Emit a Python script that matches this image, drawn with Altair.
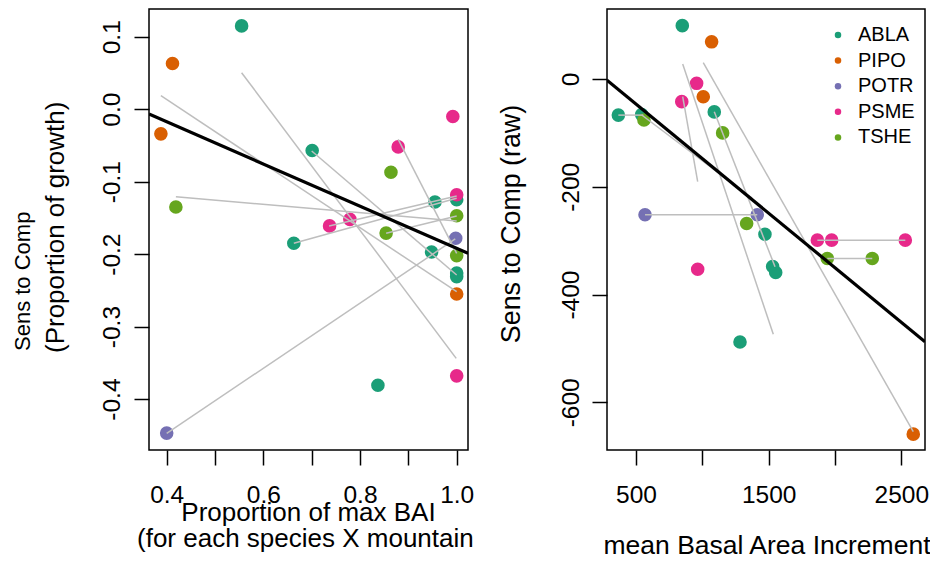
import altair as alt
import pandas as pd

FONT = "Liberation Sans"
SPECIES = ["ABLA", "PIPO", "POTR", "PSME", "TSHE"]
SPECIES_COLORS = ["#1B9E77", "#D95F02", "#7570B3", "#E7298A", "#66A61E"]

# ---- left panel: proportion of max BAI vs sensitivity (proportion of growth)
prop_species = ["ABLA", "PIPO", "PIPO", "TSHE", "ABLA", "PSME", "PSME", "TSHE",
                "ABLA", "ABLA", "PSME", "TSHE", "PSME", "PSME", "TSHE", "ABLA",
                "POTR", "ABLA", "TSHE", "ABLA", "ABLA", "PIPO", "PSME", "ABLA", "POTR"]
prop_bai = [0.555, 0.412, 0.388, 0.419, 0.701, 0.992, 0.879, 0.864,
            0.955, 1.000, 1.000, 1.000, 0.737, 0.779, 0.854, 0.663,
            0.998, 0.948, 1.000, 1.000, 1.000, 1.000, 1.000, 0.837, 0.400]
prop_sens = [0.115, 0.063, -0.034, -0.135, -0.057, -0.010, -0.052, -0.087,
             -0.128, -0.125, -0.118, -0.147, -0.161, -0.152, -0.171, -0.185,
             -0.178, -0.197, -0.202, -0.226, -0.231, -0.255, -0.368, -0.381, -0.447]

# grey within-group connectors
prop_seg_x1 = [0.555, 0.388, 0.700, 0.879, 0.419, 0.736, 0.663, 0.854, 0.400]
prop_seg_y1 = [0.0504, 0.0186, -0.0577, -0.0415, -0.1208, -0.1612, -0.1851, -0.1713, -0.4473]
prop_seg_x2 = [0.999, 1.000, 1.000, 1.000, 1.000, 1.000, 1.000, 1.000, 0.997]
prop_seg_y2 = [-0.3438, -0.2519, -0.2288, -0.1989, -0.1543, -0.1198, -0.1230, -0.1474, -0.1791]

# overall linear fit
prop_fit = {"intercept": 0.0991, "slope": -0.2912}

prop_x_domain = [0.3634, 1.0234]
prop_y_domain = [-0.4703, 0.1383]
prop_x_ticks = [0.4, 0.5, 0.6, 0.7, 0.8, 0.9, 1.0]
prop_y_ticks = [-0.4, -0.3, -0.2, -0.1, 0.0, 0.1]

# ---- right panel: mean basal area increment vs sensitivity (raw)
raw_species = ["ABLA", "PIPO", "PSME", "PIPO", "PSME", "ABLA", "ABLA", "TSHE",
               "ABLA", "TSHE", "POTR", "POTR", "TSHE", "ABLA", "PSME", "PSME",
               "PSME", "TSHE", "TSHE", "ABLA", "ABLA", "PSME", "ABLA", "PIPO"]
raw_bai = [849, 1070, 957, 1007, 845, 367, 543, 560,
           1090, 1153, 568, 1414, 1334, 1472, 1867, 1975,
           2530, 1942, 2281, 1530, 1553, 965, 1284, 2590]
raw_sens = [99, 69, -8, -33, -42, -67, -66, -76,
            -61, -100, -252, -252, -268, -288, -299, -299,
            -299, -333, -333, -348, -359, -353, -488, -659]

raw_seg_x1 = [367, 568, 1867, 1942, 852, 852, 1007, 1090, 543]
raw_seg_y1 = [-67, -252, -299, -333, 27.8, -32.8, 30.2, -60.7, -66.8]
raw_seg_x2 = [555, 1414, 2530, 2281, 1535, 965, 2590, 1548, 1374]
raw_seg_y2 = [-67, -252, -299, -333, -473.7, -190.5, -654.5, -348.3, -221]

raw_fit = {"intercept": 54.6, "slope": -0.2024}

raw_x_domain = [281.4, 2678.5]
raw_y_domain = [-688.4, 129.9]
raw_x_ticks = [500, 1000, 1500, 2000, 2500]
raw_y_ticks = [-600, -400, -200, 0]

PANEL_H = 441
TICK = 15
TICK_FONT = 24.5
TITLE_FONT = 26


def x_axis(values, fmt, label_expr):
    return alt.Axis(values=values, format=fmt, labelExpr=label_expr, title=None,
                    domain=False, grid=False, tickSize=TICK, tickWidth=1.5,
                    tickColor="black", labelFont=FONT, labelFontSize=TICK_FONT,
                    labelColor="black", labelBaseline="alphabetic", labelPadding=37,
                    labelOverlap=False, labelFlush=False)


def y_axis(values, fmt, pad):
    return alt.Axis(values=values, format=fmt,
                    labelExpr="replace(datum.label, '\u2212', '-')",
                    title=None, domain=False, grid=False, tickSize=TICK,
                    tickWidth=1.5, tickColor="black", labelFont=FONT,
                    labelFontSize=TICK_FONT, labelColor="black", labelAngle=270,
                    labelAlign="center", labelBaseline="alphabetic",
                    labelPadding=pad, labelOverlap=False, labelFlush=False)


def text_layer(text, px, py, angle=0, align="center", baseline="alphabetic",
               size=TITLE_FONT, limit=0):
    kw = dict(angle=angle, align=align, baseline=baseline, font=FONT,
              fontSize=size, color="black")
    if limit:
        # cut the text at the panel edge without any visible ellipsis
        kw.update(limit=limit, ellipsis="\u200b")
    return alt.Chart(pd.DataFrame({"t": [text]})).mark_text(**kw).encode(
        x=alt.value(px), y=alt.value(py), text="t:N")


def panel(species, xs, ys, sx1, sy1, sx2, sy2, fit, xdom, ydom, xax, yax,
          width, legend, titles):
    xs_ = alt.Scale(domain=xdom, nice=False, zero=False)
    ys_ = alt.Scale(domain=ydom, nice=False, zero=False)
    color = alt.Scale(domain=SPECIES, range=SPECIES_COLORS)

    pts = pd.DataFrame({"species": species, "x": xs, "y": ys})
    segs = pd.DataFrame({"x1": sx1, "y1": sy1, "x2": sx2, "y2": sy2})
    line = pd.DataFrame({
        "x1": [xdom[0]], "x2": [xdom[1]],
        "y1": [fit["intercept"] + fit["slope"] * xdom[0]],
        "y2": [fit["intercept"] + fit["slope"] * xdom[1]],
    })

    points = alt.Chart(pts).mark_circle(size=185, opacity=1).encode(
        x=alt.X("x:Q", scale=xs_, axis=xax),
        y=alt.Y("y:Q", scale=ys_, axis=yax),
        color=alt.Color("species:N", scale=color, legend=legend),
    )
    connectors = alt.Chart(segs).mark_rule(color="#BEBEBE", strokeWidth=1.5).encode(
        x=alt.X("x1:Q", scale=xs_, axis=xax), y=alt.Y("y1:Q", scale=ys_, axis=yax),
        x2="x2:Q", y2="y2:Q",
    )
    fitline = alt.Chart(line).mark_rule(color="black", strokeWidth=3.2, clip=True).encode(
        x=alt.X("x1:Q", scale=xs_, axis=xax), y=alt.Y("y1:Q", scale=ys_, axis=yax),
        x2="x2:Q", y2="y2:Q",
    )
    layers = [points, connectors, fitline] + titles
    return alt.layer(*layers).properties(width=width, height=PANEL_H)


left = panel(
    prop_species, prop_bai, prop_sens,
    prop_seg_x1, prop_seg_y1, prop_seg_x2, prop_seg_y2, prop_fit,
    prop_x_domain, prop_y_domain,
    x_axis(prop_x_ticks, ".1f",
           "round(datum.value * 10) % 2 == 0 ? datum.label : ''"),
    y_axis(prop_y_ticks, ".1f", 15),
    319, None,
    [
        text_layer("Proportion of max BAI", 159.5, 512),
        text_layer("(for each species X mountain)", -12, 538, align="left", limit=341),
        text_layer("Sens to Comp", -126, 342, angle=270, align="left",
                   baseline="middle", size=22),
        text_layer("(Proportion of growth)", -93.5, 344, angle=270, align="left",
                   baseline="middle"),
    ],
)

right = panel(
    raw_species, raw_bai, raw_sens,
    raw_seg_x1, raw_seg_y1, raw_seg_x2, raw_seg_y2, raw_fit,
    raw_x_domain, raw_y_domain,
    x_axis(raw_x_ticks, "d", "datum.value % 1000 == 500 ? datum.label : ''"),
    y_axis(raw_y_ticks, "d", 14),
    318,
    alt.Legend(title=None, orient="none", legendX=221, legendY=16,
               symbolType="circle", symbolSize=42, symbolStrokeWidth=0,
               labelFont=FONT, labelFontSize=20, labelColor="black",
               labelOffset=10, rowPadding=5.6, padding=0),
    [
        text_layer("mean Basal Area Increment", 160, 545, size=26.5),
        text_layer("Sens to Comp (raw)", -95, 215, angle=270, baseline="middle",
                   size=26.8),
    ],
)

chart = alt.hconcat(left, right, spacing=139, bounds="flush").resolve_scale(
    color="independent"
).properties(
    autosize=alt.AutoSizeParams(type="none"),
    padding={"left": 149, "top": 9, "right": 930 - 149, "bottom": 562 - 9},
    background="white",
).configure_view(stroke="black", strokeWidth=1.5)

chart.save("out.html", embed_options={"renderer": "svg", "actions": False})
